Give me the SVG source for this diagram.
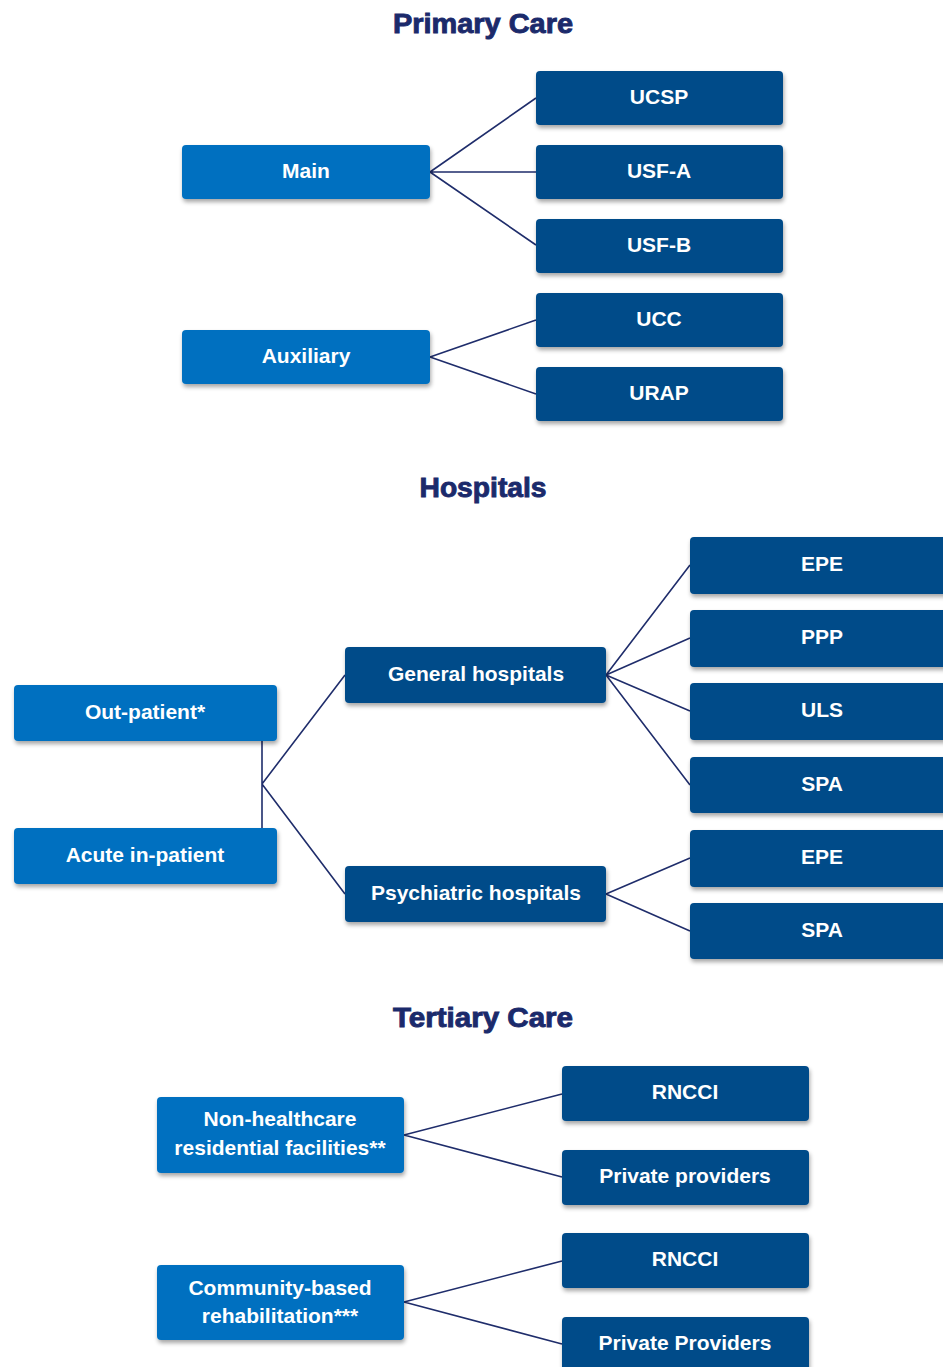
<svg xmlns="http://www.w3.org/2000/svg" width="943" height="1367" viewBox="0 0 943 1367">
<defs>
<filter id="sh" x="-10%" y="-20%" width="120%" height="150%">
<feDropShadow dx="1" dy="3" stdDeviation="2" flood-color="#000" flood-opacity="0.35"/>
</filter>
<style>
.lt{fill:#0070C0;filter:url(#sh)}
.dk{fill:#034B89;filter:url(#sh)}
.t{font-family:"Liberation Sans",Arial,sans-serif;font-weight:bold;font-size:21px;fill:#fff;text-anchor:middle}
.h{font-family:"Liberation Sans",Arial,sans-serif;font-weight:900;font-size:27px;fill:#1B2A6B;stroke:#1B2A6B;stroke-width:0.9;text-anchor:middle}
.c{stroke:#1F2D6B;stroke-width:1.6;fill:none}
</style>
</defs>
<rect width="943" height="1367" fill="#fff"/>
<text class="h" x="483" y="33" textLength="180" lengthAdjust="spacingAndGlyphs">Primary Care</text>
<text class="h" x="483" y="497" textLength="127" lengthAdjust="spacingAndGlyphs">Hospitals</text>
<text class="h" x="483" y="1027" textLength="180" lengthAdjust="spacingAndGlyphs">Tertiary Care</text>
<g id="connectors">
<path class="c" d="M430,172 L536,98 M430,172 L536,172 M430,172 L536,245"/>
<path class="c" d="M430,357 L536,320 M430,357 L536,394"/>
<path class="c" d="M262,741 L262,828 M262,784 L345,675 M262,784 L345,894"/>
<path class="c" d="M606,675 L690,565 M606,675 L690,638 M606,675 L690,711 M606,675 L690,785"/>
<path class="c" d="M606,894 L690,858 M606,894 L690,931"/>
<path class="c" d="M404,1135 L562,1094 M404,1135 L562,1177"/>
<path class="c" d="M404,1302 L562,1261 M404,1302 L562,1344"/>
</g>
<g id="main"><rect class="lt" x="182" y="145" width="248" height="54" rx="4"/><text class="t" x="306" y="178">Main</text></g>
<g id="auxiliary"><rect class="lt" x="182" y="330" width="248" height="54" rx="4"/><text class="t" x="306" y="363">Auxiliary</text></g>
<g id="ucsp"><rect class="dk" x="536" y="71" width="247" height="54" rx="4"/><text class="t" x="659" y="104">UCSP</text></g>
<g id="usfa"><rect class="dk" x="536" y="145" width="247" height="54" rx="4"/><text class="t" x="659" y="178">USF-A</text></g>
<g id="usfb"><rect class="dk" x="536" y="219" width="247" height="54" rx="4"/><text class="t" x="659" y="252">USF-B</text></g>
<g id="ucc"><rect class="dk" x="536" y="293" width="247" height="54" rx="4"/><text class="t" x="659" y="326">UCC</text></g>
<g id="urap"><rect class="dk" x="536" y="367" width="247" height="54" rx="4"/><text class="t" x="659" y="400">URAP</text></g>
<g id="outpatient"><rect class="lt" x="14" y="685" width="263" height="56" rx="4"/><text class="t" x="145" y="719">Out-patient*</text></g>
<g id="acute"><rect class="lt" x="14" y="828" width="263" height="56" rx="4"/><text class="t" x="145" y="862">Acute in-patient</text></g>
<g id="general"><rect class="dk" x="345" y="647" width="261" height="56" rx="4"/><text class="t" x="476" y="681">General hospitals</text></g>
<g id="psychiatric"><rect class="dk" x="345" y="866" width="261" height="56" rx="4"/><text class="t" x="476" y="900">Psychiatric hospitals</text></g>
<g id="epe1"><rect class="dk" x="690" y="537" width="263" height="57" rx="4"/><text class="t" x="822" y="571">EPE</text></g>
<g id="ppp"><rect class="dk" x="690" y="610" width="263" height="57" rx="4"/><text class="t" x="822" y="644">PPP</text></g>
<g id="uls"><rect class="dk" x="690" y="683" width="263" height="57" rx="4"/><text class="t" x="822" y="717">ULS</text></g>
<g id="spa1"><rect class="dk" x="690" y="757" width="263" height="56" rx="4"/><text class="t" x="822" y="791">SPA</text></g>
<g id="epe2"><rect class="dk" x="690" y="830" width="263" height="57" rx="4"/><text class="t" x="822" y="864">EPE</text></g>
<g id="spa2"><rect class="dk" x="690" y="903" width="263" height="56" rx="4"/><text class="t" x="822" y="937">SPA</text></g>
<g id="nonhealthcare"><rect class="lt" x="157" y="1097" width="247" height="76" rx="4"/><text class="t" x="280" y="1126">Non-healthcare</text><text class="t" x="280" y="1155">residential facilities**</text></g>
<g id="community"><rect class="lt" x="157" y="1265" width="247" height="75" rx="4"/><text class="t" x="280" y="1295">Community-based</text><text class="t" x="280" y="1323">rehabilitation***</text></g>
<g id="rncci1"><rect class="dk" x="562" y="1066" width="247" height="55" rx="4"/><text class="t" x="685" y="1099">RNCCI</text></g>
<g id="private1"><rect class="dk" x="562" y="1150" width="247" height="55" rx="4"/><text class="t" x="685" y="1183">Private providers</text></g>
<g id="rncci2"><rect class="dk" x="562" y="1233" width="247" height="55" rx="4"/><text class="t" x="685" y="1266">RNCCI</text></g>
<g id="private2"><rect class="dk" x="562" y="1317" width="247" height="55" rx="4"/><text class="t" x="685" y="1350">Private Providers</text></g>
</svg>
